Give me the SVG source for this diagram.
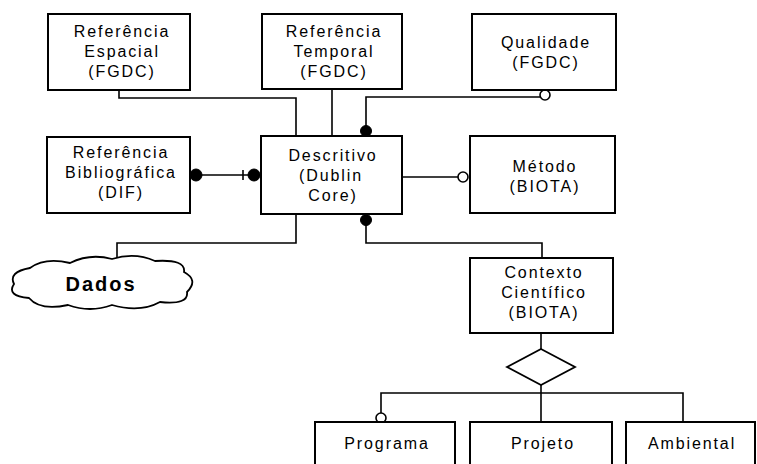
<svg xmlns="http://www.w3.org/2000/svg" width="757" height="464" viewBox="0 0 757 464">
<style>
.box{fill:#fff;stroke:#000;stroke-width:2}
.ln{fill:none;stroke:#000;stroke-width:1.6}
.t{font-family:"Liberation Sans",Arial,sans-serif;font-size:16px;letter-spacing:1.9px;text-anchor:middle;fill:#000}
.big{font-family:"Liberation Sans",Arial,sans-serif;font-size:20px;font-weight:bold;letter-spacing:2px;text-anchor:middle;fill:#000}
.dot{fill:#000;stroke:#000}
.odot{fill:#fff;stroke:#000;stroke-width:1.6}
</style>
<rect width="757" height="464" fill="#fff"/>
<g id="connectors">
<polyline class="ln" points="119,90 119,98 296,98 296,136"/>
<line class="ln" x1="332" y1="89" x2="332" y2="136"/>
<polyline class="ln" points="540,97 366,97 366,136"/>
<line class="ln" x1="190" y1="175" x2="261" y2="175"/>
<line class="ln" x1="243" y1="170" x2="243" y2="180"/>
<line class="ln" x1="402" y1="177" x2="458" y2="177"/>
<polyline class="ln" points="296,214 296,243 117,243 117,260"/>
<polyline class="ln" points="366,214 366,243 542,243 542,258"/>
<line class="ln" x1="541" y1="333" x2="541" y2="349"/>
<line class="ln" x1="541" y1="385" x2="541" y2="422"/>
<polyline class="ln" points="381,413 381,393 683,393 683,422"/>
<circle class="dot" cx="366" cy="131" r="5.5"/>
<circle class="dot" cx="366" cy="220" r="5.5"/>
<circle class="dot" cx="196" cy="175" r="6"/>
<circle class="dot" cx="254" cy="175" r="6"/>
<circle class="odot" cx="545" cy="95" r="5"/>
<circle class="odot" cx="463" cy="177" r="5"/>
<circle class="odot" cx="381" cy="418" r="5"/>
</g>
<g id="espacial">
<rect class="box" x="48" y="14" width="142" height="76"/>
<text class="t" x="122" y="37">Referência</text>
<text class="t" x="122" y="57">Espacial</text>
<text class="t" x="122" y="77">(FGDC)</text>
</g>
<g id="temporal">
<rect class="box" x="262" y="14" width="140" height="75"/>
<text class="t" x="334" y="37">Referência</text>
<text class="t" x="334" y="57">Temporal</text>
<text class="t" x="334" y="77">(FGDC)</text>
</g>
<g id="qualidade">
<rect class="box" x="472" y="14" width="144" height="76"/>
<text class="t" x="546" y="48">Qualidade</text>
<text class="t" x="546" y="68">(FGDC)</text>
</g>
<g id="bibliografica">
<rect class="box" x="47" y="137" width="143" height="76"/>
<text class="t" x="121" y="158">Referência</text>
<text class="t" x="121" y="178">Bibliográfica</text>
<text class="t" x="121" y="198">(DIF)</text>
</g>
<g id="descritivo">
<rect class="box" x="261" y="136" width="141" height="78"/>
<text class="t" x="333" y="161">Descritivo</text>
<text class="t" x="331" y="181">(Dublin</text>
<text class="t" x="333" y="201">Core)</text>
</g>
<g id="metodo">
<rect class="box" x="470" y="136" width="145" height="77"/>
<text class="t" x="545" y="172">Método</text>
<text class="t" x="545" y="192">(BIOTA)</text>
</g>
<g id="dados">
<path d="M 14 284 Q 8 272 30 268 Q 45 257 70 263 Q 90 253 112 259 Q 135 252 155 261 Q 186 259 184 272 Q 199 280 187 292 Q 189 305 160 302 Q 140 313 112 305 Q 90 313 68 305 Q 40 311 29 298 Q 6 296 14 284 Z" fill="#fff" stroke="#000" stroke-width="1.8"/>
<text class="big" x="101" y="291">Dados</text>
</g>
<g id="contexto">
<rect class="box" x="470" y="258" width="143" height="75"/>
<text class="t" x="544" y="278">Contexto</text>
<text class="t" x="544" y="298">Científico</text>
<text class="t" x="544" y="318">(BIOTA)</text>
</g>
<g id="diamond">
<polygon points="541,349 575,367 541,385 507,367" fill="#fff" stroke="#000" stroke-width="1.8"/>
</g>
<g id="programa">
<rect class="box" x="315" y="422" width="140" height="50"/>
<text class="t" x="387" y="449">Programa</text>
</g>
<g id="projeto">
<rect class="box" x="470" y="422" width="142" height="50"/>
<text class="t" x="543" y="449">Projeto</text>
</g>
<g id="ambiental">
<rect class="box" x="626" y="422" width="129" height="50"/>
<text class="t" x="692" y="449">Ambiental</text>
</g>
</svg>
